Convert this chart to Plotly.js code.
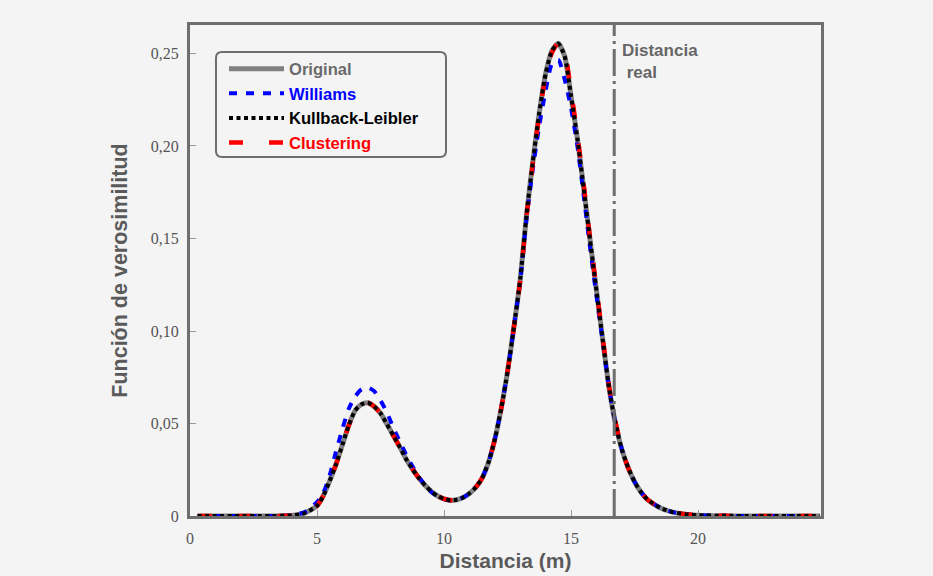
<!DOCTYPE html>
<html>
<head>
<meta charset="utf-8">
<script src="https://cdn.plot.ly/plotly-3.0.1.min.js"></script>
<style>html,body{margin:0;padding:0;background:#f4f4f4;}#chart{width:933px;height:576px;}</style>
</head>
<body>
<div id="chart"></div>
<script>
// ---- data ----
const distance = [0.3, 1, 2, 3, 4, 4.5,
  5, 5.25, 5.5, 5.75, 6, 6.25, 6.5, 6.75, 7, 7.25, 7.5, 7.75, 8, 8.25, 8.5, 8.75, 9, 9.25, 9.5, 9.75,
  10, 10.25, 10.5, 10.75, 11, 11.25, 11.5, 11.75, 12, 12.25, 12.5, 12.75, 13, 13.25, 13.5, 13.75,
  14, 14.25, 14.5, 14.75, 15, 15.25, 15.5, 15.75, 16, 16.25, 16.5, 16.75, 17, 17.25, 17.5, 17.75,
  18, 18.5, 19, 19.5, 20, 21, 22, 23, 24, 24.8];

const original = [0, 0, 0, 0, 0.0003, 0.0015,
  0.0055, 0.011, 0.019, 0.028, 0.0385, 0.049, 0.057, 0.0603, 0.0612, 0.0592, 0.0555, 0.0497, 0.0436, 0.0375, 0.031, 0.0255, 0.0207, 0.0166, 0.0133, 0.0108,
  0.0092, 0.0085, 0.0088, 0.0100, 0.0122, 0.0155, 0.0205, 0.029, 0.0415, 0.058, 0.078, 0.102, 0.128, 0.163, 0.192, 0.218,
  0.239, 0.2515, 0.2555, 0.2485, 0.227, 0.204, 0.177, 0.149, 0.122, 0.095, 0.069, 0.050, 0.036, 0.026, 0.0185, 0.013,
  0.009, 0.0045, 0.0021, 0.001, 0.0004, 0.0001, 0, 0, 0, 0];

const williams = [0, 0, 0, 0, 0.0004, 0.002,
  0.0075, 0.0125, 0.022, 0.035, 0.047, 0.058, 0.0645, 0.0685, 0.0695, 0.0675, 0.0625, 0.056, 0.0478, 0.0405, 0.0335, 0.027, 0.0213, 0.0168, 0.013, 0.0105,
  0.009, 0.0084, 0.0088, 0.0100, 0.0122, 0.0155, 0.0205, 0.029, 0.0415, 0.058, 0.078, 0.102, 0.127, 0.161, 0.188, 0.211,
  0.230, 0.2445, 0.2465, 0.236, 0.2205, 0.200, 0.173, 0.145, 0.119, 0.094, 0.069, 0.050, 0.036, 0.026, 0.0185, 0.013,
  0.009, 0.0045, 0.0021, 0.001, 0.0004, 0.0001, 0, 0, 0, 0];

const kullbackLeibler = [0, 0, 0, 0, 0.0003, 0.0015,
  0.0055, 0.011, 0.019, 0.028, 0.0385, 0.049, 0.057, 0.0603, 0.0612, 0.0592, 0.0555, 0.0497, 0.0436, 0.0375, 0.031, 0.0255, 0.0207, 0.0166, 0.0133, 0.0108,
  0.0092, 0.0085, 0.0088, 0.0100, 0.0122, 0.0155, 0.0205, 0.029, 0.0415, 0.058, 0.078, 0.102, 0.128, 0.163, 0.192, 0.218,
  0.239, 0.2515, 0.2553, 0.2485, 0.227, 0.204, 0.177, 0.149, 0.122, 0.095, 0.069, 0.050, 0.036, 0.026, 0.0185, 0.013,
  0.009, 0.0045, 0.0021, 0.001, 0.0004, 0.0001, 0, 0, 0, 0];

const clustering = [0, 0, 0, 0, 0.0003, 0.0015,
  0.0055, 0.011, 0.019, 0.028, 0.0385, 0.049, 0.057, 0.0603, 0.0612, 0.0592, 0.0555, 0.0497, 0.0436, 0.0375, 0.031, 0.0255, 0.0207, 0.0166, 0.0133, 0.0108,
  0.0092, 0.0085, 0.0088, 0.0100, 0.0122, 0.0155, 0.0205, 0.029, 0.0415, 0.058, 0.078, 0.102, 0.127, 0.162, 0.191, 0.217,
  0.238, 0.2505, 0.2557, 0.2505, 0.2295, 0.206, 0.179, 0.150, 0.123, 0.096, 0.070, 0.051, 0.036, 0.026, 0.0185, 0.013,
  0.009, 0.0045, 0.0021, 0.001, 0.0004, 0.0001, 0, 0, 0, 0];

const realDistance = 16.7;
const xTickVals = [0, 5, 10, 15, 20];
const xTickText = ['0', '5', '10', '15', '20'];
const yTickVals = [0, 0.05, 0.10, 0.15, 0.20, 0.25];
const yTickText = ['0', '0,05', '0,10', '0,15', '0,20', '0,25'];

// ---- layout geometry (pixels) ----
const W = 933, H = 576;
const M = {l: 190, r: 112, t: 25, b: 60};
const PW = W - M.l - M.r, PH = H - M.t - M.b;
const px2x = p => (p - M.l) / PW;
const px2y = p => (H - M.b - p) / PH;

function roundRect(x0, y0, x1, y1, r) {
  const rx = r / PW, ry = r / PH;
  const X0 = px2x(x0), X1 = px2x(x1), Y0 = px2y(y0), Y1 = px2y(y1); // Y0 top
  return `M${X0 + rx},${Y0} L${X1 - rx},${Y0} Q${X1},${Y0} ${X1},${Y0 - ry} ` +
         `L${X1},${Y1 + ry} Q${X1},${Y1} ${X1 - rx},${Y1} L${X0 + rx},${Y1} ` +
         `Q${X0},${Y1} ${X0},${Y1 + ry} L${X0},${Y0 - ry} Q${X0},${Y0} ${X0 + rx},${Y0} Z`;
}

const sans = 'Liberation Sans, Arial, sans-serif';
const serif = 'Liberation Serif, Times New Roman, serif';

const traces = [
  {x: distance, y: original, name: '<span style="color:#6b6b6b">Original</span>', legendrank: 1,
   mode: 'lines', line: {color: '#808080', width: 5, shape: 'spline', smoothing: 0.6}},
  {x: distance, y: williams, name: '<span style="color:#0000ff">Williams</span>', legendrank: 2,
   mode: 'lines', line: {color: '#0000ff', width: 4, dash: '8px,9px', shape: 'spline', smoothing: 0.6}},
  {x: distance, y: clustering, name: '<span style="color:#ff0000">Clustering</span>', legendrank: 4,
   mode: 'lines', line: {color: '#ff0000', width: 4.5, dash: '14px,26px', shape: 'spline', smoothing: 0.6}},
  {x: distance, y: kullbackLeibler, name: '<span style="color:#000000">Kullback-Leibler</span>', legendrank: 3,
   mode: 'lines', line: {color: '#000000', width: 4, dash: '4px,3.5px', shape: 'spline', smoothing: 0.6}}
];

const layout = {
  width: W, height: H,
  margin: M,
  paper_bgcolor: '#f4f4f4',
  plot_bgcolor: '#f4f4f4',
  showlegend: true,
  legend: {
    x: px2x(224), y: px2y(51.5), xanchor: 'left', yanchor: 'top',
    bgcolor: 'rgba(0,0,0,0)', borderwidth: 0,
    itemwidth: 55, traceorder: 'normal',
    font: {family: sans, size: 16.6, color: '#666', weight: 'bold'}
  },
  xaxis: {
    range: [0, 24.84], showgrid: false, zeroline: false,
    showline: true, mirror: true, linecolor: '#6e6e6e', linewidth: 3,
    ticks: 'inside', ticklen: 6, tickwidth: 1, tickcolor: '#999',
    tickvals: xTickVals, ticktext: xTickText, ticklabelstandoff: 6,
    tickfont: {family: serif, size: 16, color: '#555'},
    title: {text: 'Distancia (m)', standoff: 8,
            font: {family: sans, size: 21, color: '#5a5a5a', weight: 'bold'}}
  },
  yaxis: {
    range: [0, 0.2654], showgrid: false, zeroline: false,
    showline: true, mirror: true, linecolor: '#6e6e6e', linewidth: 3,
    ticks: 'inside', ticklen: 6, tickwidth: 1, tickcolor: '#999',
    tickvals: yTickVals, ticktext: yTickText, ticklabelstandoff: 5,
    tickfont: {family: serif, size: 16, color: '#555'},
    title: {text: 'Función de verosimilitud', standoff: 18,
            font: {family: sans, size: 21.5, color: '#5a5a5a', weight: 'bold'}}
  },
  shapes: [
    {type: 'line', xref: 'x', yref: 'paper', x0: realDistance, x1: realDistance, y0: 0, y1: 1,
     line: {color: '#6e6e6e', width: 3, dash: '27px,5px,3px,5px'}},
    {type: 'path', xref: 'paper', yref: 'paper', path: roundRect(216, 52, 446, 157, 6),
     line: {color: '#6e6e6e', width: 2}, fillcolor: 'rgba(0,0,0,0)'}
  ],
  annotations: [
    {xref: 'x', yref: 'paper', x: realDistance, y: px2y(39), xanchor: 'left', yanchor: 'top',
     xshift: 6, showarrow: false, align: 'left', text: 'Distancia<br>&nbsp;real',
     font: {family: sans, size: 17, color: '#666', weight: 'bold'}}
  ]
};

Plotly.newPlot('chart', traces, layout, {displayModeBar: false, staticPlot: true});
</script>
</body>
</html>
